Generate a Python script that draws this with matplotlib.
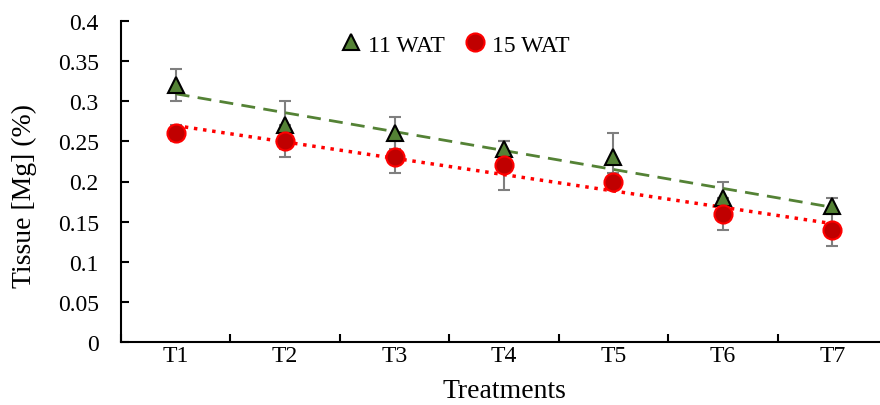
import numpy as np
import matplotlib.pyplot as plt

plt.rcParams['font.family'] = ['Liberation Serif', 'DejaVu Serif']

treatments = ['T1', 'T2', 'T3', 'T4', 'T5', 'T6', 'T7']
wat11 = [0.32, 0.27, 0.26, 0.24, 0.23, 0.18, 0.17]
wat11_err = [0.02, 0.03, 0.02, 0.01, 0.03, 0.02, 0.01]
wat15 = [0.26, 0.25, 0.23, 0.22, 0.20, 0.16, 0.14]
wat15_err = [0.01, 0.02, 0.02, 0.03, 0.01, 0.02, 0.02]

green = '#548235'
red_face = '#C00000'
red = '#FF0000'

fig = plt.figure(figsize=(8.8, 4.06), dpi=100)
ax = fig.add_axes([121/880, 1 - 343/406, 766/880, 321/406])

x = np.arange(len(treatments))

ax.errorbar(x, wat11, yerr=wat11_err, fmt='none', ecolor='#7f7f7f', elinewidth=1.5,
            capsize=4, capthick=1.5, zorder=2)
ax.errorbar(x, wat15, yerr=wat15_err, fmt='none', ecolor='#7f7f7f', elinewidth=1.5,
            capsize=4, capthick=1.5, zorder=2)

# linear trend lines
p11 = np.polyfit(x, wat11, 1)
p15 = np.polyfit(x, wat15, 1)
ax.plot(x, np.polyval(p11, x), '--', color=green, lw=2, dashes=(5, 3), zorder=3)
ax.plot(x, np.polyval(p15, x), ':', color=red, lw=2.5, zorder=3)

ax.plot(x, wat11, '^', ms=12, mfc=green, mec='black', mew=1.5, ls='none',
        label='11 WAT', zorder=4)
ax.plot(x, wat15, 'o', ms=13, mfc=red_face, mec=red, mew=1.5, ls='none',
        label='15 WAT', zorder=4)

ax.set_xlim(-0.5, len(treatments) - 0.5)
ax.set_ylim(0, 0.4)
ax.set_yticks(np.arange(0, 0.401, 0.05))
ax.set_yticklabels(['0', '0.05', '0.1', '0.15', '0.2', '0.25', '0.3', '0.35', '0.4'])
ax.set_xticks(x)
ax.set_xticklabels(treatments)
ax.set_xticks(np.arange(-0.5, len(treatments), 1), minor=True)
ax.tick_params(axis='x', which='major', length=0, labelsize=17, pad=2)
ax.tick_params(axis='x', which='minor', direction='in', length=6, width=1.5)
ax.tick_params(axis='y', direction='in', length=6, width=1.5, labelsize=17, pad=16)

for s in ['top', 'right']:
    ax.spines[s].set_visible(False)
for s in ['left', 'bottom']:
    ax.spines[s].set_linewidth(1.5)

ax.set_xlabel('Treatments', fontsize=20, labelpad=9)
ax.set_ylabel('Tissue [Mg] (%)', fontsize=20)
ax.yaxis.set_label_coords(-0.11, 0.458)

ax.legend(loc='upper center', bbox_to_anchor=(0.435, 1.025), ncol=2,
          frameon=False, fontsize=17, handletextpad=0.2, columnspacing=0.8,
          markerscale=1.0, handlelength=1.0)

fig.savefig('out.png', dpi=100)
